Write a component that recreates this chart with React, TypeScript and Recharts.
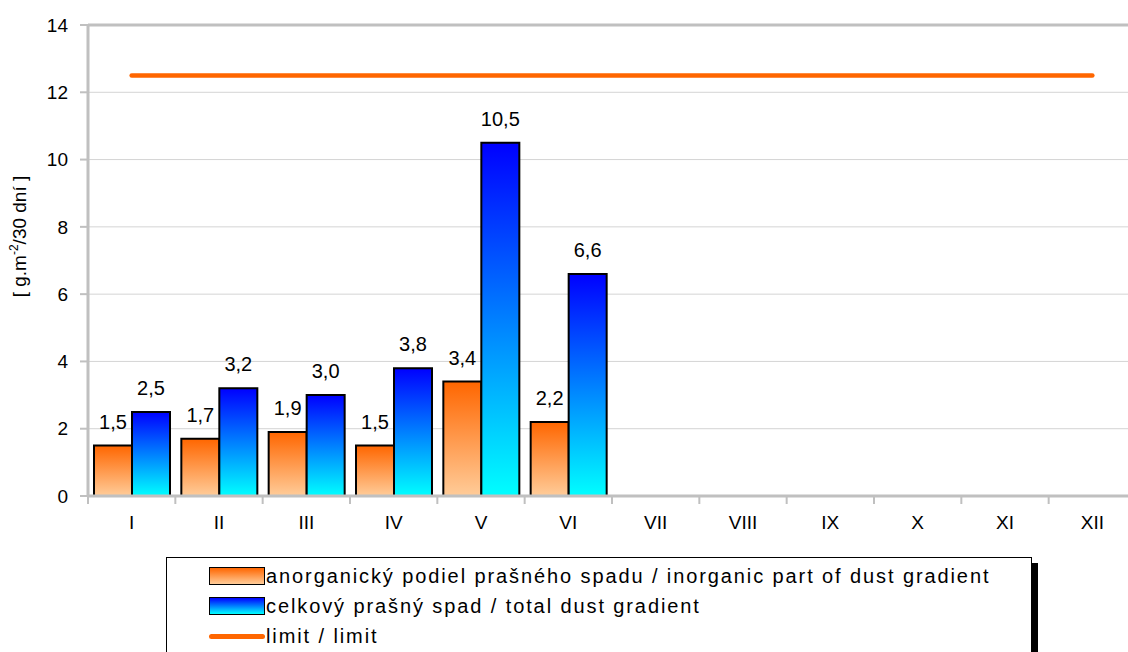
import { ComposedChart, Bar, Line, XAxis, YAxis, CartesianGrid, ReferenceLine, LabelList } from 'recharts';

const months = ['I', 'II', 'III', 'IV', 'V', 'VI', 'VII', 'VIII', 'IX', 'X', 'XI', 'XII'];
const inorganic = [1.5, 1.7, 1.9, 1.5, 3.4, 2.2, null, null, null, null, null, null];
const total = [2.5, 3.2, 3.0, 3.8, 10.5, 6.6, null, null, null, null, null, null];
const limit = [12.5, 12.5, 12.5, 12.5, 12.5, 12.5, 12.5, 12.5, 12.5, 12.5, 12.5, 12.5];
const yTicks = [0, 2, 4, 6, 8, 10, 12, 14];

const legendItems = [
  { label: 'anorganický podiel prašného spadu / inorganic part of dust gradient', kind: 'orange' },
  { label: 'celkový prašný spad / total dust gradient', kind: 'blue' },
  { label: 'limit / limit', kind: 'line' },
];

const data = months.map((m, i) => ({
  month: m,
  inorganic: inorganic[i],
  total: total[i],
  limit: limit[i],
}));

const FONT = '"Liberation Sans", Arial, sans-serif';
const GREY = '#c0c0c0';

const fmt = (v: any) => (v == null ? '' : Number(v).toFixed(1).replace('.', ','));

// month label at the band centre, tick marks on the band edges
const MonthTick = (props: any) => {
  const { x, y, payload, index, width } = props;
  const half = (width || 1048) / months.length / 2;
  return (
    <g>
      <line x1={x - half} y1={y} x2={x - half} y2={y + 8} stroke={GREY} strokeWidth={2} />
      {index === months.length - 1 && (
        <line x1={x + half} y1={y} x2={x + half} y2={y + 8} stroke={GREY} strokeWidth={2} />
      )}
      <text x={x} y={y + 33} textAnchor="middle" fontSize={19} fontFamily={FONT} fill="#000">
        {payload.value}
      </text>
    </g>
  );
};

const YTitle = (props: any) => {
  const vb = props.viewBox || {};
  const x = 26;
  const y = vb.y + vb.height / 2 - 24;
  return (
    <text
      x={x}
      y={y}
      transform={`rotate(-90, ${x}, ${y})`}
      textAnchor="middle"
      fontSize={19}
      fontFamily={FONT}
      fill="#000"
    >
      [ g.m<tspan dy={-8} fontSize={12}>-2</tspan>
      <tspan dy={8}>/30 dní ]</tspan>
    </text>
  );
};

export default function App() {
  return (
    <div style={{ position: 'absolute', left: 0, top: 0, width: 1128, height: 652, overflow: 'hidden', background: '#fff' }}>
      <ComposedChart
        width={1140}
        height={652}
        data={data}
        margin={{ top: 25, right: 4, left: 0, bottom: 116 }}
        barCategoryGap={6}
        barGap={0}
      >
        <defs>
          <linearGradient id="gOrange" x1="0" y1="0" x2="0" y2="1">
            <stop offset="0%" stopColor="#ff6600" />
            <stop offset="100%" stopColor="#ffcc99" />
          </linearGradient>
          <linearGradient id="gBlue" x1="0" y1="0" x2="0" y2="1">
            <stop offset="0%" stopColor="#0000ff" />
            <stop offset="100%" stopColor="#00ffff" />
          </linearGradient>
        </defs>
        <CartesianGrid vertical={false} stroke="#d4d4d4" />
        <XAxis
          dataKey="month"
          interval={0}
          height={40}
          tickSize={0}
          tickMargin={0}
          tick={<MonthTick />}
          tickLine={false}
          axisLine={{ stroke: GREY, strokeWidth: 3 }}
        />
        <YAxis
          width={88}
          domain={[0, 14]}
          ticks={yTicks}
          tickSize={8}
          tickMargin={12}
          axisLine={{ stroke: GREY, strokeWidth: 3 }}
          tickLine={{ stroke: GREY, strokeWidth: 2 }}
          tick={{ fontSize: 19, fontFamily: FONT, fill: '#000' }}
          label={<YTitle />}
        />
        <ReferenceLine y={14} stroke={GREY} strokeWidth={3} />
        <Bar dataKey="inorganic" fill="url(#gOrange)" stroke="#000" strokeWidth={2} isAnimationActive={false}>
          <LabelList dataKey="inorganic" position="top" offset={17} formatter={fmt} fontSize={20} fontFamily={FONT} fill="#000" />
        </Bar>
        <Bar dataKey="total" fill="url(#gBlue)" stroke="#000" strokeWidth={2} isAnimationActive={false}>
          <LabelList dataKey="total" position="top" offset={17} formatter={fmt} fontSize={20} fontFamily={FONT} fill="#000" />
        </Bar>
        <Line
          dataKey="limit"
          stroke="#ff6600"
          strokeWidth={4.5}
          strokeLinecap="round"
          dot={false}
          activeDot={false}
          isAnimationActive={false}
        />
      </ComposedChart>
      <div
        style={{
          position: 'absolute',
          left: 166,
          top: 557,
          width: 864,
          height: 120,
          border: '1px solid #000',
          boxShadow: '6px 6px 0 #000',
          background: '#fff',
          fontFamily: FONT,
          fontSize: 20,
          letterSpacing: 1.9,
          color: '#000',
        }}
      >
        {legendItems.map((it, i) => (
          <div key={i} style={{ position: 'absolute', left: 42, top: 5 + i * 30, height: 26, display: 'flex', alignItems: 'center', whiteSpace: 'nowrap' }}>
            {it.kind === 'line' ? (
              <span style={{ display: 'inline-block', width: 56, height: 5, borderRadius: 3, background: '#ff6600' }} />
            ) : (
              <span
                style={{
                  display: 'inline-block',
                  width: 54,
                  height: 16,
                  border: '1px solid #000',
                  background: it.kind === 'orange'
                    ? 'linear-gradient(#ff6600, #ffcc99)'
                    : 'linear-gradient(#0000ff, #00ffff)',
                }}
              />
            )}
            <span style={{ marginLeft: 1 }}>{it.label}</span>
          </div>
        ))}
      </div>
    </div>
  );
}
